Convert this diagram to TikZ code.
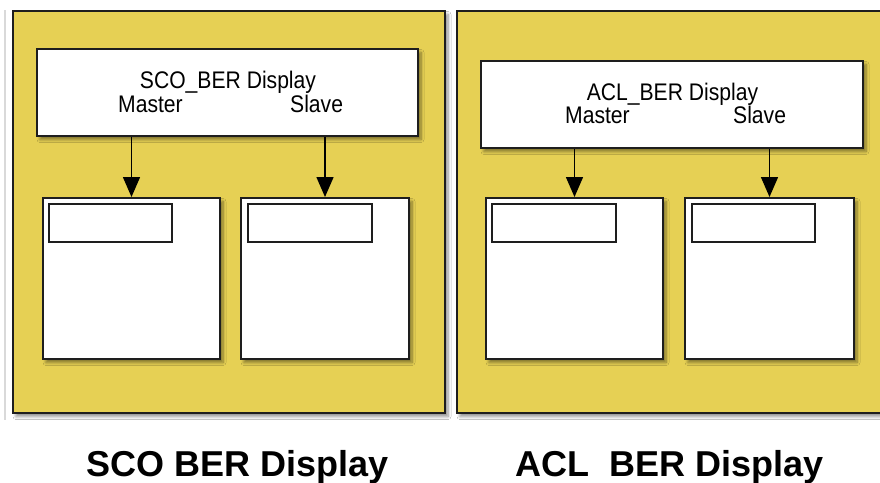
\documentclass[tikz,border=0pt]{standalone}
\usepackage{fontspec}
\setmainfont{Liberation Sans}
\newfontfamily\narrowfont{Liberation Sans}[FakeStretch=0.88]
\usetikzlibrary{shadows,shadows.blur,arrows.meta}
\definecolor{panelyellow}{RGB}{230,208,84}
\definecolor{edge}{RGB}{30,30,30}
\tikzset{
  shadowed/.style={blur shadow={shadow xshift=3pt, shadow yshift=-3.5pt,
    shadow blur steps=6, shadow blur radius=3pt, shadow opacity=45}},
  panel/.style={draw=edge, line width=2pt, fill=panelyellow, inner sep=0pt, shadowed},
  whitebox/.style={draw=edge, line width=2pt, fill=white, inner sep=0pt, shadowed},
  innerbox/.style={draw=edge, line width=1.6pt, fill=white, inner sep=0pt},
  smalltext/.style={inner sep=0pt, font=\narrowfont\fontsize{24}{24}\selectfont},
  biglabel/.style={inner sep=0pt, font=\bfseries\fontsize{36}{36}\selectfont},
  arr/.style={draw=black, line width=1.5pt, -{Triangle[width=17pt,length=20pt]}}
}
\begin{document}
\begin{tikzpicture}[x=1pt,y=-1pt]
\useasboundingbox[fill=white] (0,0) rectangle (880,482);
\draw[black!15, line width=1.5pt] (5,10) -- (5,420);
% panels
\node[panel, minimum width=432pt, minimum height=402pt] (p1) at (229,212) {};
\node[panel, minimum width=434pt, minimum height=402pt] (p2) at (674,212) {};
% top boxes
\node[whitebox, minimum width=381pt, minimum height=87pt] (t1) at (227.5,92.5) {};
\node[whitebox, minimum width=382pt, minimum height=87pt] (t2) at (672,104.5) {};
\node[smalltext, anchor=base] (t1title) at (228,88) {SCO\_BER Display};
\node[smalltext, anchor=base west] (t1m) at (118,112) {Master};
\node[smalltext, anchor=base west] (t1s) at (290,112) {Slave};
\node[smalltext, anchor=base] (t2title) at (672.5,100) {ACL\_BER Display};
\node[smalltext, anchor=base west] (t2m) at (565,123) {Master};
\node[smalltext, anchor=base west] (t2s) at (733,123) {Slave};
% lower boxes
\node[whitebox, minimum width=177pt, minimum height=161pt] (b1) at (131.5,278.5) {};
\node[whitebox, minimum width=168pt, minimum height=161pt] (b2) at (325,278.5) {};
\node[whitebox, minimum width=177pt, minimum height=161pt] (b3) at (574.5,278.5) {};
\node[whitebox, minimum width=169pt, minimum height=161pt] (b4) at (769.5,278.5) {};
% inner boxes
\node[innerbox, minimum width=123pt, minimum height=38pt] (i1) at (110.5,223) {};
\node[innerbox, minimum width=124pt, minimum height=38pt] (i2) at (310,223) {};
\node[innerbox, minimum width=124pt, minimum height=38pt] (i3) at (554,223) {};
\node[innerbox, minimum width=123pt, minimum height=38pt] (i4) at (753.5,223) {};
% arrows
\draw[arr] (t1.south -| b1.north) -- (b1.north);
\draw[arr] (t1.south -| b2.north) -- (b2.north);
\draw[arr] (t2.south -| b3.north) -- (b3.north);
\draw[arr] (t2.south -| b4.north) -- (b4.north);
% captions
\node[biglabel, anchor=base] (c1) at (237.5,476) {SCO BER Display};
\node[biglabel, anchor=base] (c2) at (670,476) {ACL\ \ BER Display};
\end{tikzpicture}
\end{document}
